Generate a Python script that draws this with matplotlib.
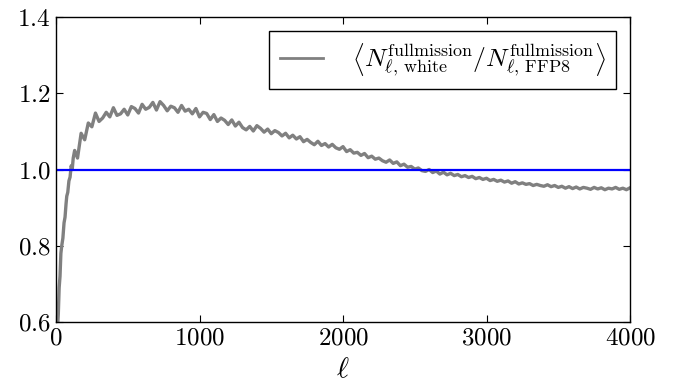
import matplotlib
matplotlib.use('Agg')
import matplotlib.pyplot as plt
from matplotlib.ticker import FuncFormatter

matplotlib.rcParams['mathtext.fontset'] = 'cm'
matplotlib.rcParams['font.family'] = ['cmr10', 'DejaVu Sans']
matplotlib.rcParams['axes.unicode_minus'] = False

# low multipoles
ell_low = [2, 10, 16, 22, 28, 34, 40, 48, 56, 63, 70, 75, 82, 90, 98, 106, 113, 120, 130, 140]
ratio_low = [0.45, 0.58, 0.62, 0.69, 0.72, 0.78, 0.80, 0.82, 0.86, 0.875, 0.91, 0.93, 0.94, 0.97,
             0.98, 1.01, 1.00, 1.03, 1.05, 1.04]

# ell = 150 ... 4000 in steps of 25
ell_high = list(range(150, 4001, 25))
ratio_high = [
    1.030, 1.095, 1.078, 1.122, 1.112, 1.148, 1.126, 1.135, 1.150, 1.138,
    1.162, 1.142, 1.146, 1.158, 1.143, 1.165, 1.160, 1.148, 1.171, 1.158,
    1.163, 1.176, 1.156, 1.178, 1.168, 1.154, 1.166, 1.162, 1.150, 1.168,
    1.153, 1.158, 1.146, 1.160, 1.138, 1.150, 1.147, 1.131, 1.144, 1.126,
    1.135, 1.129, 1.118, 1.130, 1.114, 1.124, 1.110, 1.104, 1.113, 1.101,
    1.115, 1.108, 1.098, 1.106, 1.094, 1.102, 1.097, 1.088, 1.095, 1.083,
    1.090, 1.080, 1.086, 1.073, 1.079, 1.071, 1.065, 1.074, 1.063, 1.068,
    1.059, 1.066, 1.057, 1.053, 1.060, 1.047, 1.052, 1.043, 1.045, 1.037,
    1.042, 1.031, 1.035, 1.027, 1.030, 1.023, 1.019, 1.025, 1.016, 1.020,
    1.010, 1.014, 1.006, 1.008, 1.001, 1.004, 0.997, 0.995, 1.000, 0.992,
    0.996, 0.988, 0.993, 0.986, 0.990, 0.984, 0.987, 0.981, 0.984, 0.979,
    0.982, 0.976, 0.979, 0.974, 0.977, 0.971, 0.974, 0.969, 0.972, 0.967,
    0.970, 0.964, 0.968, 0.962, 0.965, 0.961, 0.963, 0.958, 0.961, 0.958,
    0.956, 0.960, 0.955, 0.958, 0.953, 0.956, 0.951, 0.955, 0.950, 0.954,
    0.949, 0.953, 0.951, 0.948, 0.953, 0.949, 0.952, 0.947, 0.951, 0.949,
    0.953, 0.948, 0.951, 0.947, 0.952,
]

ell = ell_low + ell_high
ratio = ratio_low + ratio_high

xticks = [0, 1000, 2000, 3000, 4000]
yticks = [0.6, 0.8, 1.0, 1.2, 1.4]

label = (r'$\left\langle N_{\ell,\,\mathrm{white}}^{\mathrm{fullmission}}'
         r'/N_{\ell,\,\mathrm{FFP8}}^{\mathrm{fullmission}}\right\rangle$')

fig = plt.figure(figsize=(6.84, 3.83), dpi=100)
ax = fig.add_axes([56 / 684, 1 - 322 / 383, (630 - 56) / 684, (322 - 17) / 383])

ax.plot(ell, ratio, color='#808080', lw=2.4, label=label)
ax.axhline(1.0, color='b', lw=1.6)

ax.set_xlim(0, 4000)
ax.set_ylim(0.6, 1.4)
ax.set_xticks(xticks)
ax.set_yticks(yticks)
ax.xaxis.set_major_formatter(FuncFormatter(lambda v, p: '$%d$' % v))
ax.yaxis.set_major_formatter(FuncFormatter(lambda v, p: '$%.1f$' % v))
ax.tick_params(direction='in', top=True, right=True, length=5, width=0.8, labelsize=18, pad=4)
for s in ax.spines.values():
    s.set_linewidth(1.0)

ax.set_xlabel(r'$\ell$', fontsize=21, labelpad=5)

leg = ax.legend(loc='upper right', fontsize=18.5, fancybox=False, framealpha=1,
                handlelength=1.7, borderaxespad=0.55, borderpad=0.4, handletextpad=1.1)
leg.get_frame().set_edgecolor('black')
leg.get_frame().set_linewidth(1.0)
leg.get_lines()[0].set_linewidth(2.0)

fig.savefig('out.png', dpi=100, facecolor='white')
